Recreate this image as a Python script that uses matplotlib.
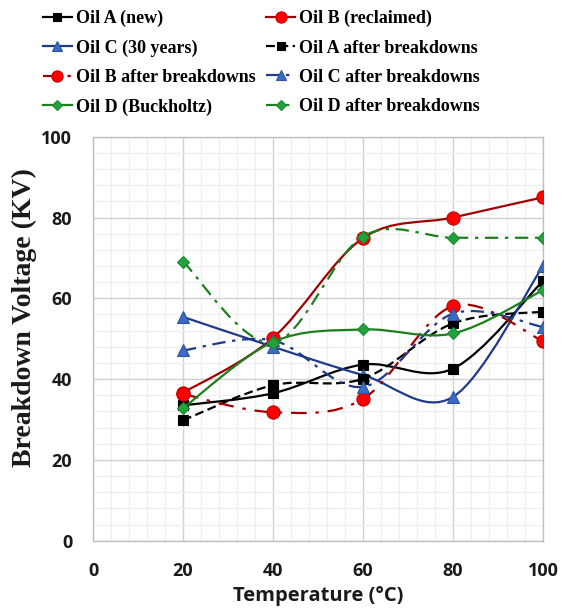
import numpy as np
import matplotlib
matplotlib.use("Agg")
import matplotlib.pyplot as plt
from matplotlib.path import Path
from matplotlib.patches import PathPatch
from matplotlib.lines import Line2D
from matplotlib.ticker import MultipleLocator

# ---------------- data ----------------
temperature = [20, 40, 60, 80, 100]
oil_a_new = [33.5, 36.5, 43.6, 42.6, 64.3]
oil_b_reclaimed = [36.6, 50.2, 74.9, 80.0, 85.0]
oil_c_30years = [55.4, 48.0, 41.0, 35.6, 68.0]
oil_a_after = [29.8, 38.5, 40.1, 53.8, 56.7]
oil_b_after = [36.3, 31.8, 35.1, 58.1, 49.4]
oil_c_after = [47.1, 49.6, 38.1, 56.2, 52.9]
oil_d_buckholtz = [32.8, 49.2, 52.3, 51.3, 62.0]
oil_d_after = [69.1, 49.0, 75.3, 75.0, 75.0]

labels = ["Oil A (new)", "Oil B (reclaimed)", "Oil C (30 years)",
          "Oil A after breakdowns", "Oil B after breakdowns",
          "Oil C after breakdowns", "Oil D (Buckholtz)", "Oil D after breakdowns"]
x_ticks = [0, 20, 40, 60, 80, 100]
y_ticks = [0, 20, 40, 60, 80, 100]

# ---------------- styles ----------------
BLACK = "#000000"
RED_L, RED_M, RED_E = "#A00000", "#FF0000", "#C00000"
BLUE_L, BLUE_M, BLUE_E = "#1F3A8A", "#3A6BC8", "#2F5597"
GREEN_L, GREEN_M, GREEN_E = "#1B7F1B", "#22A23C", "#1B8A30"

dashdot = (0, (6, 3, 1.5, 3))
series = [
    (oil_a_new, BLACK, "-", "s", BLACK, BLACK, 7.0),
    (oil_b_reclaimed, RED_L, "-", "o", RED_M, RED_E, 9.5),
    (oil_c_30years, BLUE_L, "-", "^", BLUE_M, BLUE_E, 8.5),
    (oil_a_after, BLACK, (0, (4, 2)), "s", BLACK, BLACK, 7.0),
    (oil_b_after, RED_L, (0, (7, 4, 1.5, 4)), "o", RED_M, RED_E, 9.5),
    (oil_c_after, BLUE_L, dashdot, "^", BLUE_M, BLUE_E, 8.5),
    (oil_d_buckholtz, GREEN_L, "-", "D", GREEN_M, GREEN_E, 6.5),
    (oil_d_after, GREEN_L, dashdot, "D", GREEN_M, GREEN_E, 6.5),
]


def smooth_path(xs, ys):
    """Excel-like smoothed line: Catmull-Rom converted to cubic Bezier."""
    P = np.column_stack([xs, ys]).astype(float)
    n = len(P)
    verts = [P[0]]
    codes = [Path.MOVETO]
    for i in range(n - 1):
        p0 = P[i - 1] if i > 0 else P[i]
        p1 = P[i]
        p2 = P[i + 1]
        p3 = P[i + 2] if i + 2 < n else P[i + 1]
        c1 = p1 + (p2 - p0) / 6.0
        c2 = p2 - (p3 - p1) / 6.0
        verts += [c1, c2, p2]
        codes += [Path.CURVE4] * 3
    return Path(verts, codes)


fig = plt.figure(figsize=(5.62, 6.15), dpi=100)
ax = fig.add_axes([0.1655, 0.1208, 0.8007, 0.6569])

ax.set_xlim(0, 100)
ax.set_ylim(0, 100)
ax.set_xticks(x_ticks)
ax.set_yticks(y_ticks)
ax.xaxis.set_minor_locator(MultipleLocator(4))
ax.yaxis.set_minor_locator(MultipleLocator(4))
ax.grid(which="major", color="#D0D0D0", linewidth=1.0, zorder=0)
ax.grid(which="minor", color="#EFEFEF", linewidth=0.9, zorder=0)
ax.set_axisbelow(True)
for s in ax.spines.values():
    s.set_color("#C0C0C0")
    s.set_linewidth(1.0)
ax.tick_params(which="both", length=0)
ax.tick_params(axis="both", pad=15)
for lab in ax.get_xticklabels() + ax.get_yticklabels():
    lab.set_fontfamily("Open Sans")
    lab.set_fontweight("bold")
    lab.set_fontsize(13)
    lab.set_color("#1A1A1A")

handles = []
for z, (vals, lc, ls, mk, mfc, mec, ms) in enumerate(series):
    patch = PathPatch(smooth_path(temperature, vals), facecolor="none",
                      edgecolor=lc, linewidth=1.6, linestyle=ls, zorder=3 + z)
    ax.add_patch(patch)
    ax.plot(temperature, vals, linestyle="none", marker=mk, markersize=ms,
            markerfacecolor=mfc, markeredgecolor=mec, markeredgewidth=0.8,
            zorder=3 + z)
    handles.append(Line2D([], [], color=lc, linestyle=ls, linewidth=1.6,
                          marker=mk, markersize=ms * 0.85, markerfacecolor=mfc,
                          markeredgecolor=mec, markeredgewidth=0.8))

ax.set_xlabel("Temperature (°C)", fontfamily="Open Sans", fontweight="bold",
              fontsize=14.5, color="#1A1A1A", labelpad=5)
fig.text(0.044, 0.483, "Breakdown Voltage (KV)", rotation=90,
         fontfamily="Liberation Serif", fontweight="bold", fontsize=20,
         ha="center", va="center", color="#1A1A1A")

# legend: column-wise order for 2 columns
order = [0, 2, 4, 6, 1, 3, 5, 7]
fig.legend([handles[i] for i in order], [labels[i] for i in order],
           ncol=2, loc="upper left", bbox_to_anchor=(0.058, 1.0),
           frameon=False, prop={"family": "Liberation Serif", "weight": "bold", "size": 13},
           handlelength=1.65, handletextpad=0.2, columnspacing=0.55,
           labelspacing=0.68, borderaxespad=0.15)

fig.savefig("out.png", dpi=100)
